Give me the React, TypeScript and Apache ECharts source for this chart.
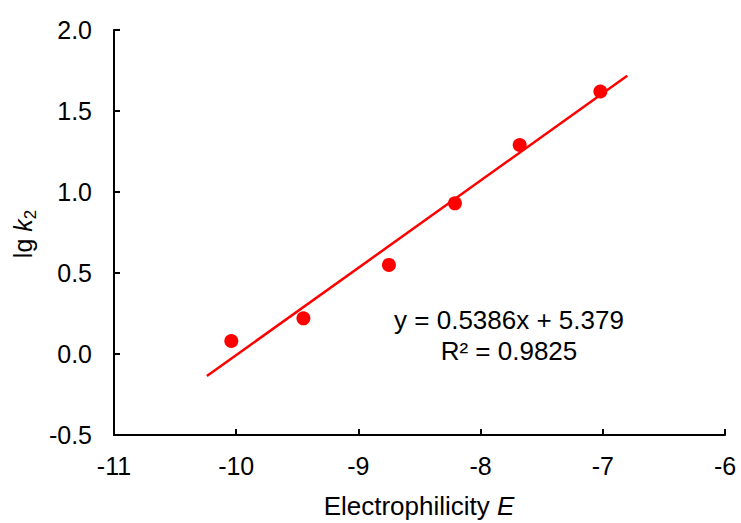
import React, { useEffect, useRef } from "react";
import * as echarts from "echarts";

const electrophilicity = [-10.04, -9.45, -8.75, -8.21, -7.68, -7.02];
const lgK2 = [0.08, 0.22, 0.55, 0.93, 1.29, 1.62];
const trendX = [-10.24, -6.8];
const trendY = [-0.136, 1.717];
const equationText = "y = 0.5386x + 5.379";
const r2Text = "R² = 0.9825";

const FONT = "'Liberation Sans', Arial, sans-serif";
const FS = 25;
const FS2 = 26;

export default function App() {
  const ref = useRef<HTMLDivElement>(null);
  useEffect(() => {
    if (!ref.current) return;
    const chart = echarts.init(ref.current, undefined, { renderer: "svg" });
    const grid = { left: 114, right: 16, top: 30, bottom: 88 };
    chart.setOption({
      animation: false,
      backgroundColor: "#ffffff",
      textStyle: { fontFamily: FONT },
      grid,
      xAxis: {
        type: "value",
        min: -11,
        max: -6,
        interval: 1,
        splitLine: { show: false },
        axisLine: { onZero: false, lineStyle: { color: "#000", width: 2 } },
        axisTick: { inside: true, length: 6, lineStyle: { color: "#000", width: 2 } },
        axisLabel: { color: "#000", fontSize: FS, margin: 18, fontFamily: FONT },
      },
      yAxis: {
        type: "value",
        min: -0.5,
        max: 2.0,
        interval: 0.5,
        splitLine: { show: false },
        axisLine: { onZero: false, lineStyle: { color: "#000", width: 2 } },
        axisTick: { inside: true, length: 6, lineStyle: { color: "#000", width: 2 } },
        axisLabel: {
          color: "#000",
          fontSize: FS,
          margin: 22,
          fontFamily: FONT,
          formatter: (v: number) => v.toFixed(1),
        },
      },
      series: [
        {
          type: "line",
          data: trendX.map((x, i) => [x, trendY[i]]),
          showSymbol: false,
          symbol: "none",
          lineStyle: { color: "#ff0000", width: 2.5 },
          z: 2,
        },
        {
          type: "scatter",
          data: electrophilicity.map((x, i) => [x, lgK2[i]]),
          symbolSize: 14,
          itemStyle: { color: "#ff0000", opacity: 1 },
          z: 3,
        },
      ],
      graphic: [
        {
          type: "text",
          x: 419,
          y: 506,
          style: {
            text: "{a|Electrophilicity }{i|E}",
            align: "center",
            verticalAlign: "middle",
            rich: {
              a: { fontSize: FS2, fontFamily: FONT, fill: "#000" },
              i: { fontSize: FS2, fontFamily: FONT, fontStyle: "italic", fill: "#000" },
            },
          },
        },
        {
          type: "text",
          x: 23,
          y: 234,
          rotation: Math.PI / 2,
          style: {
            text: "{a|lg }{i|k}{s|2}",
            align: "center",
            verticalAlign: "middle",
            rich: {
              a: { fontSize: FS, lineHeight: 32, verticalAlign: "middle", fontFamily: FONT, fill: "#000" },
              i: { fontSize: FS, lineHeight: 32, verticalAlign: "middle", fontFamily: FONT, fontStyle: "italic", fill: "#000" },
              s: { fontSize: 17, lineHeight: 17, verticalAlign: "bottom", fontFamily: FONT, fill: "#000" },
            },
          },
        },
        {
          type: "text",
          x: 509,
          y: 320,
          style: {
            text: equationText,
            align: "center",
            verticalAlign: "middle",
            fontSize: FS2,
            fontFamily: FONT,
            fill: "#000",
          },
        },
        {
          type: "text",
          x: 509,
          y: 351,
          style: {
            text: r2Text,
            align: "center",
            verticalAlign: "middle",
            fontSize: FS2,
            fontFamily: FONT,
            fill: "#000",
          },
        },
      ],
    });
    return () => chart.dispose();
  }, []);
  return <div ref={ref} style={{ width: 741, height: 523, position: "absolute", left: 0, top: 0 }} />;
}
